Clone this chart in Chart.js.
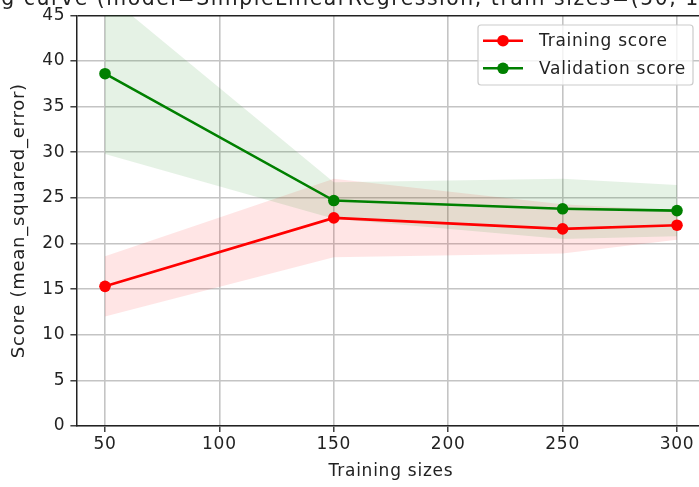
<!DOCTYPE html>
<html>
<head>
<meta charset="utf-8">
<title>Learning curve</title>
<script src="https://cdn.jsdelivr.net/npm/chart.js@4/dist/chart.umd.min.js"></script>
<style>
  html, body { margin: 0; padding: 0; background: #fff; overflow: hidden; width: 699px; height: 487px; }
  #wrap { position: absolute; left: 0; top: -30px; width: 712px; height: 517px; }
</style>
</head>
<body>
<div id="wrap"><canvas id="curveChart"></canvas></div>
<script>
// learning curve values (mean score and std over CV folds)
const trainSizes = [50, 150, 250, 300];
const trainMean = [15.3, 22.8, 21.6, 22.0];
const trainStd = [3.3, 4.3, 2.7, 1.6];
const valMean = [38.6, 24.7, 23.8, 23.6];
const valStd = [8.8, 2.0, 3.3, 2.8];

const xTicks = [50, 100, 150, 200, 250, 300];
const xMin = 37.5, xMax = 312.5;
const yMin = 0, yMax = 45, yStep = 5;

const chartTitle = 'Learning curve (model=SimpleLinearRegression, train sizes=(50, 150, 250, 300))';

const FONT = 'DejaVu Sans';
const TEXT = '#222';
const GRID = '#c4c4c4';

function points(ys, offs, sign) {
    return trainSizes.map((x, i) => ({ x: x, y: ys[i] + (offs ? sign * offs[i] : 0) }));
}

function band(ys, offs, sign, color, fill) {
    return {
        data: points(ys, offs, sign),
        borderWidth: 0,
        pointRadius: 0,
        backgroundColor: color,
        fill: fill
    };
}

// wider spacing for the axis text, title centred over the plot, and a
// matplotlib style legend box in the upper right corner
const figureText = {
    id: 'figureText',
    beforeDraw(chart) {
        chart.ctx.letterSpacing = '0.75px';
    },
    afterDraw(chart) {
        const ctx = chart.ctx;
        const area = chart.chartArea;
        ctx.save();
        ctx.letterSpacing = '1.55px';
        ctx.font = '20.4px "' + FONT + '"';
        ctx.fillStyle = TEXT;
        ctx.textAlign = 'center';
        ctx.textBaseline = 'alphabetic';
        ctx.fillText(chartTitle, (area.left + area.right) / 2, area.top - 10.3);
        ctx.restore();

        const items = chart.data.datasets.filter(d => d.label);
        const w = 215, h = 60;
        const x = area.right - 12.6 - w, y = area.top + 9.7;
        ctx.save();
        ctx.beginPath();
        ctx.roundRect(x, y, w, h, 3);
        ctx.fillStyle = 'rgba(255,255,255,0.8)';
        ctx.fill();
        ctx.strokeStyle = '#cccccc';
        ctx.lineWidth = 1.2;
        ctx.stroke();
        ctx.letterSpacing = '0.75px';
        ctx.font = '17px "' + FONT + '"';
        ctx.textBaseline = 'middle';
        items.forEach((d, i) => {
            const cy = y + 15.7 + i * 27.6;
            ctx.strokeStyle = d.borderColor;
            ctx.lineWidth = 2.6;
            ctx.beginPath();
            ctx.moveTo(x + 5, cy);
            ctx.lineTo(x + 45, cy);
            ctx.stroke();
            ctx.fillStyle = d.borderColor;
            ctx.beginPath();
            ctx.arc(x + 25, cy, 5.8, 0, Math.PI * 2);
            ctx.fill();
            ctx.fillStyle = TEXT;
            ctx.fillText(d.label, x + 61, cy + 1);
        });
        ctx.restore();
    }
};

const ctx = document.getElementById('curveChart').getContext('2d');
const curveChart = new Chart(ctx, {
    type: 'line',
    data: {
        datasets: [
            {
                label: 'Training score',
                data: points(trainMean),
                borderColor: '#ff0000',
                backgroundColor: '#ff0000',
                borderWidth: 2.6,
                pointRadius: 5.8,
                pointBorderWidth: 0,
                fill: false
            },
            {
                label: 'Validation score',
                data: points(valMean),
                borderColor: '#008000',
                backgroundColor: '#008000',
                borderWidth: 2.6,
                pointRadius: 5.8,
                pointBorderWidth: 0,
                fill: false
            },
            band(valMean, valStd, 1, 'rgba(0,128,0,0.1)', '+1'),
            band(valMean, valStd, -1, 'rgba(0,0,0,0)', false),
            band(trainMean, trainStd, 1, 'rgba(255,0,0,0.1)', '+1'),
            band(trainMean, trainStd, -1, 'rgba(0,0,0,0)', false)
        ]
    },
    options: {
        responsive: true,
        maintainAspectRatio: false,
        animation: false,
        devicePixelRatio: 1,
        layout: { padding: { top: 45.3, right: 6.4, left: 0, bottom: 0 } },
        elements: { line: { tension: 0 } },
        plugins: {
            legend: { display: false },
            tooltip: { enabled: false },
            title: { display: false }
        },
        scales: {
            x: {
                type: 'linear',
                min: xMin,
                max: xMax,
                afterBuildTicks: axis => { axis.ticks = xTicks.map(v => ({ value: v })); },
                afterFit: axis => { axis.height = 61; },
                ticks: { font: { family: FONT, size: 17 }, color: TEXT, padding: 2, maxRotation: 0, autoSkip: false },
                grid: { color: GRID, lineWidth: 1.6, tickColor: TEXT, tickLength: 6, tickWidth: 1.3 },
                border: { color: TEXT, width: 1.5 },
                title: {
                    display: true,
                    text: 'Training sizes',
                    font: { family: FONT, size: 17 },
                    color: TEXT,
                    padding: { top: 0, bottom: 5 }
                }
            },
            y: {
                min: yMin,
                max: yMax,
                afterFit: axis => { axis.width = 76.4; },
                ticks: { stepSize: yStep, font: { family: FONT, size: 17 }, color: TEXT, padding: 5 },
                grid: {
                    color: c => (c.tick && c.tick.value === yMax) ? TEXT : GRID,
                    lineWidth: c => (c.tick && c.tick.value === yMax) ? 1.5 : 1.6,
                    tickColor: TEXT, tickLength: 6, tickWidth: 1.3
                },
                border: { color: TEXT, width: 1.5 },
                title: {
                    display: true,
                    text: 'Score (mean_squared_error)',
                    font: { family: FONT, size: 18 },
                    color: TEXT,
                    padding: { top: 9, bottom: 0 }
                }
            }
        }
    },
    plugins: [figureText]
});
</script>
</body>
</html>
